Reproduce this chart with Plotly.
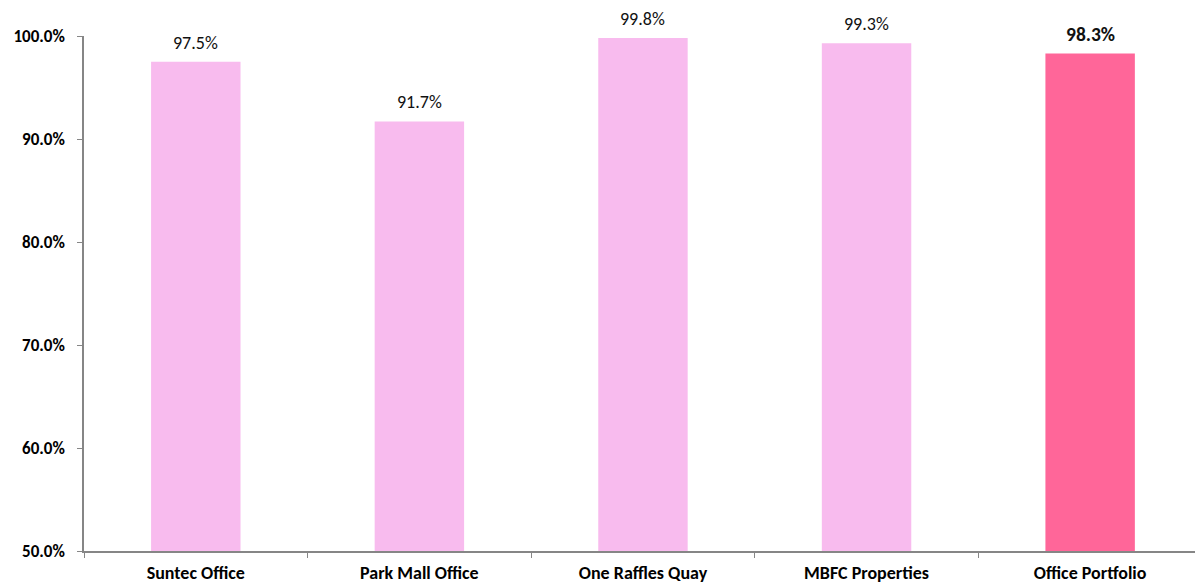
import plotly.graph_objects as go

categories = ["Suntec Office", "Park Mall Office", "One Raffles Quay", "MBFC Properties", "Office Portfolio"]
occupancy = [97.5, 91.7, 99.8, 99.3, 98.3]
tick_values = [50, 60, 70, 80, 90, 100]
tick_labels = ["50.0%", "60.0%", "70.0%", "80.0%", "90.0%", "100.0%"]

light = "#F8BBEE"
dark = "#FF6699"
colors = [light, light, light, light, dark]

FONT = "Carlito, Calibri, Lato, sans-serif"

fig = go.Figure(go.Bar(
    x=categories,
    y=occupancy,
    marker=dict(color=colors, line=dict(width=0)),
    width=0.4,
    hoverinfo="skip",
))

for i, (cat, val) in enumerate(zip(categories, occupancy)):
    last = i == len(categories) - 1
    txt = f"{val:.1f}%"
    fig.add_annotation(
        x=cat, y=val, xref="x", yref="y",
        text=f"<b>{txt}</b>" if last else txt,
        showarrow=False, yanchor="bottom", yshift=6,
        font=dict(family=FONT, size=19.5 if last else 18, color="#111111"),
    )

fig.update_layout(
    width=1195, height=586,
    margin=dict(l=84, r=0, t=36, b=35),
    paper_bgcolor="white", plot_bgcolor="white",
    showlegend=False,
    font=dict(family=FONT, color="#000000"),
)
fig.update_xaxes(
    type="category",
    range=[-0.5, 4.469],
    showline=True, linecolor="#868686", linewidth=1.5,
    ticks="outside", tickson="boundaries", ticklen=5, tickcolor="#868686",
    tickfont=dict(family=FONT, size=18, color="#000000"),
    tickprefix="<b>", ticksuffix="</b>",
    ticklabelstandoff=5,
    showgrid=False, zeroline=False,
)
fig.update_yaxes(
    range=[50, 100],
    tickvals=tick_values, ticktext=[f"<b>{t}</b>" for t in tick_labels],
    showline=True, linecolor="#868686", linewidth=1.5,
    ticks="outside", ticklen=5, tickcolor="#868686",
    tickfont=dict(family=FONT, size=17, color="#000000"),
    ticklabelstandoff=9,
    showgrid=False, zeroline=False,
)

fig.write_html("out.html")
